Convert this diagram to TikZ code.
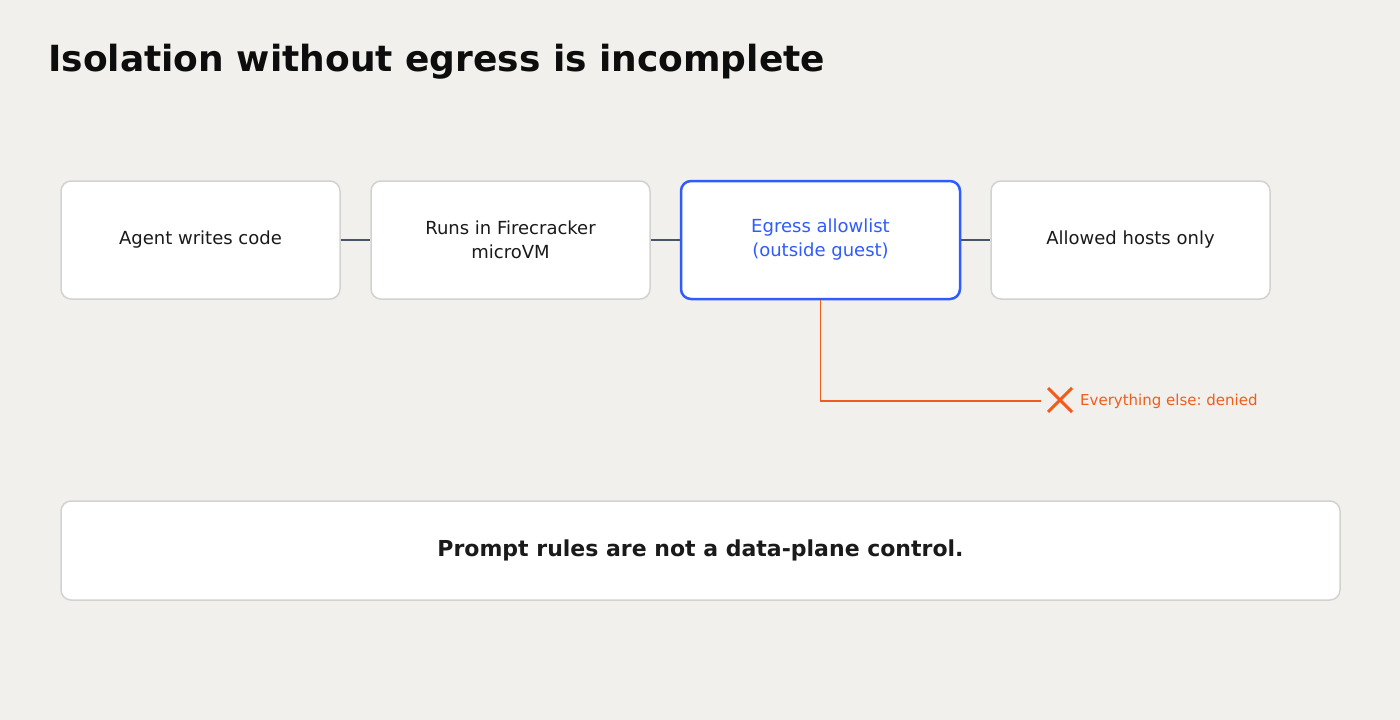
\documentclass[tikz,border=0pt]{standalone}
\usepackage{fontspec}
\setmainfont{DejaVu Sans}
\usetikzlibrary{calc}
\frenchspacing
\definecolor{bg}{HTML}{F1F0EC}
\definecolor{boxborder}{HTML}{D2D2D2}
\definecolor{accent}{HTML}{2F5BFF}
\definecolor{conn}{HTML}{475569}
\definecolor{deny}{HTML}{F25C1A}
\definecolor{ink}{HTML}{1A1A1A}
\begin{document}
\begin{tikzpicture}[x=1pt,y=-1pt,
  stepbox/.style={draw=boxborder, line width=1.5pt, fill=white, rounded corners=10pt,
    minimum width=279pt, minimum height=118pt, inner sep=0pt, align=center,
    font=\fontsize{18}{24}\selectfont, text=ink},
  hotbox/.style={stepbox, draw=accent, line width=2.5pt, text=accent},
  link/.style={draw=conn, line width=1.5pt},
  denyline/.style={draw=deny, line width=1.8pt}]
\fill[bg] (0,0) rectangle (1400,720);
\useasboundingbox (0,0) rectangle (1400,720);
\node[anchor=base west, font=\fontsize{36}{40}\bfseries\selectfont, text=black!95, inner sep=0pt] (title) at (48,71) {Isolation without egress is incomplete};
\node[stepbox] (a) at (200.5,240) {Agent writes code};
\node[stepbox] (b) at (510.5,240) {Runs in Firecracker\\microVM};
\node[hotbox] (c) at (820.5,240) {Egress allowlist\\(outside guest)};
\node[stepbox] (d) at (1130.5,240) {Allowed hosts only};
\draw[link] (a.east) -- (b.west);
\draw[link] (b.east) -- (c.west);
\draw[link] (c.east) -- (d.west);
\coordinate (xc) at (1060,400);
\coordinate (lineend) at (1041,401);
\draw[denyline] (c.south) |- (lineend);
\draw[draw=deny, line width=3pt] ($(xc)+(-12,-12)$) -- ($(xc)+(12,12)$) ($(xc)+(-12,12)$) -- ($(xc)+(12,-12)$);
\node[anchor=west, font=\fontsize{15}{16}\selectfont, text=deny, inner sep=0pt] (lbl) at (1080,401) {Everything else: denied};
\node[stepbox, minimum width=1279pt, minimum height=99pt, font=\fontsize{22}{24}\bfseries\selectfont] (note) at (700.5,550.5) {Prompt rules are not a data-plane control.};
\end{tikzpicture}
\end{document}
